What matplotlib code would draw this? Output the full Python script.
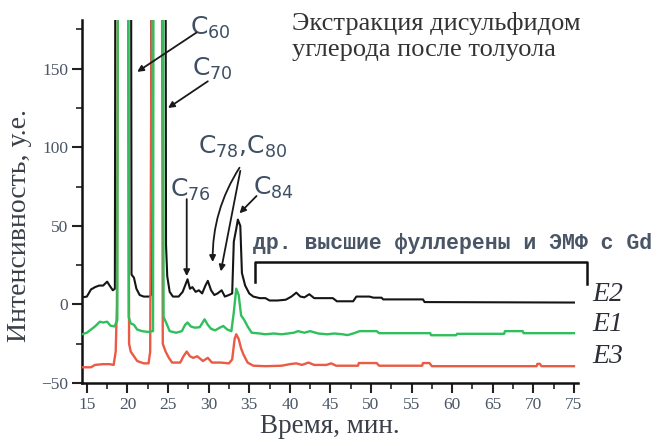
import matplotlib
matplotlib.use("Agg")
import matplotlib.pyplot as plt
from matplotlib.ticker import MultipleLocator

plt.rcParams['font.family'] = ['Liberation Serif', 'DejaVu Serif']

# ---- data ----
t_e2 = [14.4, 15.0, 15.5, 16.0, 16.5, 17.0, 17.5, 17.8, 18.2, 18.45, 18.6, 20.35, 20.5, 20.8, 21.1,
        21.5, 22.0, 22.7, 22.9, 23.05, 24.6, 24.75, 24.9, 25.2, 25.6, 26.3, 26.8, 27.1, 27.4, 27.7,
        28.0, 28.4, 28.8, 29.2, 29.6, 29.9, 30.3, 30.7, 31.1, 31.6, 32.0, 32.5, 32.9, 33.1, 33.4,
        33.6, 33.9, 34.1, 34.5, 35.0, 35.5, 36.3, 37.0, 37.5, 38.5, 39.5, 40.2, 40.8, 41.3, 41.8,
        42.4, 43.0, 45.3, 45.8, 47.8, 48.2, 49.8, 50.3, 51.3, 51.5, 56.4, 56.6, 75.0]
y_e2 = [4.5, 5, 9.5, 11, 12, 12, 14.5, 12, 9, 10, 600, 600, 19, 17, 10,
        6, 5, 5, 6, 600, 600, 38, 18, 8, 5, 5, 8, 12, 16, 10,
        11, 8, 9, 7, 12, 15, 9, 6, 7, 9, 5, 6, 7, 40, 48,
        54, 50, 20, 12, 7, 5, 4, 4, 2.5, 2.5, 3, 5, 7.5, 5, 4.5,
        6.5, 4, 4, 2, 2, 5, 5, 4.3, 4.3, 3.2, 3.2, 1.5, 1.2]

t_e1 = [14.4, 15.0, 15.5, 16.0, 16.6, 17.0, 17.5, 17.9, 18.4, 18.75, 18.9, 19.95, 20.15, 20.4, 20.8,
        21.2, 21.8, 22.5, 23.15, 23.3, 24.3, 24.45, 24.8, 25.2, 26.0, 26.7, 27.1, 27.4, 27.8, 28.3,
        28.9, 29.5, 29.9, 30.3, 30.8, 31.3, 31.8, 32.3, 32.8, 33.1, 33.4, 33.7, 34.0, 34.4, 34.8,
        35.3, 36.3, 37.0, 38.0, 39.0, 40.5, 41.0, 41.8, 42.5, 43.5, 44.6, 45.5, 46.5, 47.1, 47.8,
        48.6, 50.7, 51.0, 57.3, 57.4, 60.5, 60.6, 66.4, 66.5, 68.7, 68.8, 75.0]
y_e1 = [-19, -18, -16, -14, -11, -11.5, -11, -13.5, -14, -10, 600, 600, -8, -12, -13,
        -16, -17, -17.5, -17, 600, 600, -8, -12, -17, -18, -17, -13, -11.5, -14, -14.8,
        -14.5, -9.5, -13, -15.5, -16.5, -15, -13.7, -16, -17, -5, 10, 6, -7, -10, -14,
        -18, -18.5, -19, -18.5, -19, -18, -17, -18, -17, -18.5, -19, -18.5, -19, -19.5, -18.5,
        -17, -17, -18.3, -18.3, -19.6, -19.6, -18.7, -18.7, -17, -17, -18.3, -18.3]

t_e3 = [14.4, 15.5, 16.0, 17.0, 17.8, 18.3, 18.55, 18.7, 19.05, 19.95, 20.2, 20.4, 20.8, 21.2, 22.0,
        22.6, 22.8, 23.3, 24.1, 24.35, 24.7, 25.1, 25.5, 26.5, 26.9, 27.3, 27.7, 28.1, 28.6, 29.3,
        29.9, 30.4, 31.5, 32.5, 32.9, 33.2, 33.4, 33.7, 34.0, 34.3, 34.8, 35.5, 37.0, 39.0, 40.0,
        40.8, 41.5, 42.3, 43.0, 44.5, 45.1, 45.7, 48.4, 48.5, 50.7, 51.0, 56.3, 56.4, 57.2, 57.5,
        70.4, 70.5, 70.8, 71.0, 75.0]
y_e3 = [-40, -40, -38.5, -38, -38, -38.5, -30, -1, 600, 600, -25, -30, -33, -36, -37.5,
        -37.5, -30, 600, 600, -25, -30, -34, -37, -37, -33, -30, -33, -34, -33, -36,
        -34, -37, -37, -37.5, -35, -22, -19, -22, -28, -32, -37, -39, -39.3, -39, -38,
        -37.5, -38.5, -37, -38.5, -38.5, -37.5, -39, -39, -37.3, -37.3, -39, -39, -37.3, -37.3, -39.3,
        -39.3, -37.8, -37.8, -39.3, -39.3]

series_names = ["E2", "E1", "E3"]
x_ticks = [15, 20, 25, 30, 35, 40, 45, 50, 55, 60, 65, 70, 75]
y_ticks = [-50, 0, 50, 100, 150]

peak_labels = ["C$_{60}$", "C$_{70}$", "C$_{76}$", "C$_{78}$,C$_{80}$", "C$_{84}$"]
bracket_text = "др. высшие фуллерены и ЭМФ с Gd"
title_text = "Экстракция дисульфидом\nуглерода после толуола"
x_label = "Время, мин."
y_label = "Интенсивность, у.е."

# ---- figure ----
fig = plt.figure(figsize=(6.58, 4.46), dpi=100)
ax = fig.add_axes([82 / 658, 1 - 383 / 446, (578 - 82) / 658, (383 - 20) / 446])

c_black = "#151515"
c_green = "#2fbf5c"
c_red = "#ea5a44"
tick_col = "#4a5666"
ann_col = "#3f4f63"

ax.plot(t_e2, y_e2, color=c_black, lw=1.5, zorder=3)
ax.plot(t_e3, y_e3, color=c_red, lw=1.7, zorder=4)
ax.plot(t_e1, y_e1, color=c_green, lw=1.7, zorder=5)

ax.set_xlim(14.4, 75.5)
ax.set_ylim(-50, 181)
ax.set_xticks(x_ticks)
ax.set_yticks(y_ticks)
ax.xaxis.set_minor_locator(MultipleLocator(2.5))
ax.yaxis.set_minor_locator(MultipleLocator(25))
ax.tick_params(which='major', direction='out', length=7, width=1.5, color='#222222',
               labelsize=12.5, labelcolor=tick_col, pad=3)
ax.tick_params(which='minor', direction='out', length=4, width=1.2, color='#222222')
for s in ['top', 'right']:
    ax.spines[s].set_visible(False)
for s in ['left', 'bottom']:
    ax.spines[s].set_linewidth(1.8)
    ax.spines[s].set_color('#111111')

ax.set_xlabel(x_label, fontsize=19.5, color='#3a3f48', labelpad=1)
ax.set_ylabel(y_label, fontsize=20, color='#3a3f48')
ax.yaxis.set_label_coords(-0.1, 0.435)

# title-like text
fig.text(292 / 658, 1 - 12 / 446, title_text, fontsize=19, color='#333333',
         ha='left', va='top', linespacing=1.25)

# peak annotations
lab_kw = dict(fontsize=18, color=ann_col, family=['DejaVu Sans'], va='center', ha='left', zorder=6)
ax.text(27.7, 176, peak_labels[0], **lab_kw)
ax.text(27.9, 150, peak_labels[1], **lab_kw)
ax.text(25.2, 73, peak_labels[2], **lab_kw)
ax.text(28.7, 100, peak_labels[3], **lab_kw)
ax.text(35.45, 74, peak_labels[4], **lab_kw)

arr_kw = dict(arrowstyle='-|>', color='#1a1a1a', lw=1.3, mutation_scale=9, shrinkA=0, shrinkB=0)
ax.annotate("", xy=(21.2, 148), xytext=(28.5, 173), arrowprops=arr_kw, zorder=6)
ax.annotate("", xy=(25.0, 125), xytext=(29.9, 142), arrowprops=arr_kw, zorder=6)
ax.annotate("", xy=(27.3, 18), xytext=(27.3, 67), arrowprops=arr_kw, zorder=6)
ax.annotate("", xy=(30.5, 27), xytext=(33.8, 87), arrowprops=dict(arr_kw, connectionstyle="arc3,rad=0.15"), zorder=6)
ax.annotate("", xy=(31.5, 21), xytext=(33.9, 85), arrowprops=arr_kw, zorder=6)
ax.annotate("", xy=(33.8, 58), xytext=(35.9, 69), arrowprops=arr_kw, zorder=6)

# bracket
ax.plot([35.7, 35.7, 76.6, 76.6], [14, 26.7, 26.7, 13], color='#111111', lw=1.8,
        clip_on=False, zorder=6)
ax.text(35.45, 39, bracket_text, fontsize=15.5, family=['Liberation Mono', 'DejaVu Sans Mono'],
        weight='bold', color=tick_col, ha='left', va='center', clip_on=False)

# series labels
for name, yv in zip(series_names, [6.4, -12.7, -33]):
    ax.text(77.3, yv, name, fontsize=20, style='italic', color='#2b2e38',
            ha='left', va='center', clip_on=False)

fig.savefig("out.png", dpi=100)
